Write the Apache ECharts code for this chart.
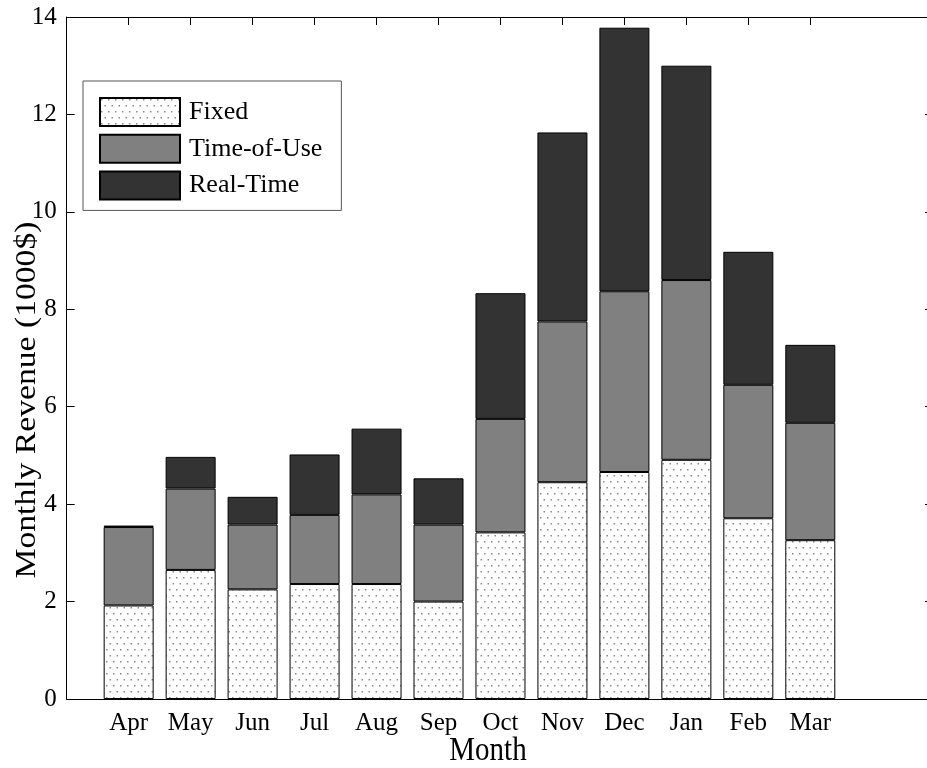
<!DOCTYPE html>
<html>
<head>
<meta charset="utf-8">
<script src="https://cdn.jsdelivr.net/npm/echarts@6/dist/echarts.min.js"></script>
<style>
  html, body { margin: 0; padding: 0; background: #fff; }
  #chart { width: 927px; height: 768px; }
</style>
</head>
<body>
<div id="chart"></div>
<script>
var months = ['Apr', 'May', 'Jun', 'Jul', 'Aug', 'Sep', 'Oct', 'Nov', 'Dec', 'Jan', 'Feb', 'Mar'];
// stacked segment heights (1000$)
var fixedVals = [1.92, 2.65, 2.25, 2.36, 2.36, 2.00, 3.42, 4.45, 4.66, 4.91, 3.71, 3.26];
var touVals   = [1.61, 1.67, 1.33, 1.42, 1.84, 1.58, 2.33, 3.30, 3.71, 3.69, 2.74, 2.41];
var rtVals    = [0.03, 0.65, 0.57, 1.24, 1.35, 0.95, 2.58, 3.88, 5.41, 4.40, 2.73, 1.60];

var font = 'Liberation Serif';

// dotted fill for the "Fixed" series
function dotPattern(){
	var c = document.createElement('canvas');
	c.width = 7;
	c.height = 12;
	var ctx = c.getContext('2d');
	ctx.fillStyle = '#ffffff';
	ctx.fillRect(0, 0, 7, 12);
	ctx.fillStyle = '#8a8a8a';
	ctx.fillRect(1, 1, 1.5, 1.5);
	ctx.fillRect(4.5, 7, 1.5, 1.5);
	return c;
}

var positions = [];
for(var i = 0; i < months.length; ++i){
	positions.push(i + 1);
}

var barStyle = function(color){
	return {
		color : color,
		borderColor : '#000',
		borderWidth : 1
	};
};

// frame grid uses x in [0, xMax] with months at 1..12,
// bar grid is the 12 month bands laid on top of it
var frameLeft = 66.7, frameRight = 933, xMax = 13.98;
var step = (frameRight - frameLeft) / xMax;
var barLeft = frameLeft + 0.5 * step;
var barRight = 927 - (frameLeft + 12.5 * step);

var frameLine = { show : true, onZero : false, lineStyle : { color : '#000', width : 1 } };
var tickStyle = { color : '#000', width : 1 };

var option = {
	animation : false,
	backgroundColor : '#fff',
	grid : [
		{ left : frameLeft, right : 927 - frameRight, top : 17, bottom : 69, outerBoundsMode : 'none', containLabel : false },
		{ left : barLeft, right : barRight, top : 17, bottom : 69, outerBoundsMode : 'none', containLabel : false }
	],
	legend : {
		orient : 'vertical',
		left : 83,
		top : 81,
		padding : [16, 19, 10, 16],
		icon : 'rect',
		itemWidth : 80,
		itemHeight : 28,
		itemGap : 6.7,
		borderColor : '#555',
		borderWidth : 1,
		backgroundColor : '#fff',
		textStyle : { fontFamily : font, fontSize : 26, color : '#000', lineHeight : 28, padding : [0, 0, 0, 4] },
		data : ['Fixed', 'Time-of-Use', 'Real-Time']
	},
	graphic : [{
		type : 'text',
		x : 27,
		y : 400,
		rotation : Math.PI / 2,
		scaleX : 1.16,
		style : { text : 'Monthly Revenue (1000$)', fontFamily : font, fontSize : 29, fill : '#000', align : 'center', verticalAlign : 'middle' }
	}, {
		type : 'text',
		x : 488,
		y : 751,
		scaleY : 1.15,
		style : { text : 'Month', fontFamily : font, fontSize : 29, fill : '#000', align : 'center', verticalAlign : 'middle' }
	}],
	xAxis : [{
		gridIndex : 0,
		type : 'value',
		min : 0,
		max : xMax,
		interval : 1,
		position : 'bottom',
		axisLine : frameLine,
		splitLine : { show : false },
		axisTick : { show : true, inside : true, length : 8, customValues : positions, lineStyle : tickStyle },
		axisLabel : {
			customValues : positions,
			margin : 12,
			fontFamily : font, fontSize : 25, color : '#000',
			formatter : function(v){ return months[Math.round(v) - 1] || ''; }
		}
	}, {
		gridIndex : 0,
		type : 'value',
		min : 0,
		max : xMax,
		interval : 1,
		position : 'top',
		axisLine : frameLine,
		splitLine : { show : false },
		axisTick : { show : true, inside : true, length : 8, customValues : positions, lineStyle : tickStyle },
		axisLabel : { show : false }
	}, {
		gridIndex : 1,
		type : 'category',
		data : months,
		show : false
	}],
	yAxis : [{
		gridIndex : 0,
		type : 'value',
		min : 0,
		max : 14,
		interval : 2,
		position : 'left',
		axisLine : frameLine,
		splitLine : { show : false },
		axisTick : { show : true, inside : true, length : 8, lineStyle : tickStyle },
		axisLabel : { margin : 10, fontFamily : font, fontSize : 25, color : '#000' }
	}, {
		gridIndex : 0,
		type : 'value',
		min : 0,
		max : 14,
		interval : 2,
		position : 'right',
		axisLine : frameLine,
		splitLine : { show : false },
		axisTick : { show : true, inside : true, length : 8, lineStyle : tickStyle },
		axisLabel : { show : false }
	}, {
		gridIndex : 1,
		type : 'value',
		min : 0,
		max : 14,
		show : false
	}],
	series : [
		// empty series so that the frame axes get drawn
		{ type : 'line', xAxisIndex : 0, yAxisIndex : 0, data : [], silent : true },
		{ type : 'line', xAxisIndex : 1, yAxisIndex : 1, data : [], silent : true },
		{ name : 'Fixed', type : 'bar', stack : 'rev', barWidth : 50, xAxisIndex : 2, yAxisIndex : 2,
		  data : fixedVals, itemStyle : barStyle({ image : dotPattern(), repeat : 'repeat' }) },
		{ name : 'Time-of-Use', type : 'bar', stack : 'rev', barWidth : 50, xAxisIndex : 2, yAxisIndex : 2,
		  data : touVals, itemStyle : barStyle('#808080') },
		{ name : 'Real-Time', type : 'bar', stack : 'rev', barWidth : 50, xAxisIndex : 2, yAxisIndex : 2,
		  data : rtVals, itemStyle : barStyle('#333333') }
	]
};

var chart = echarts.init(document.getElementById('chart'));
chart.setOption(option);
</script>
</body>
</html>
